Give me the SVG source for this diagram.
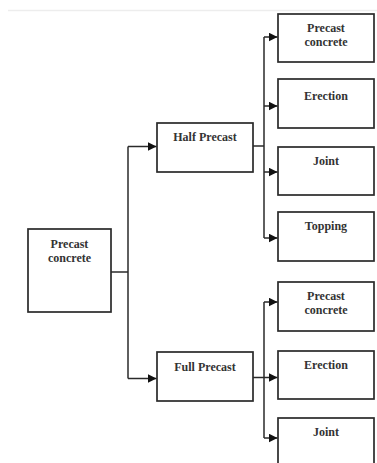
<svg xmlns="http://www.w3.org/2000/svg" width="377" height="463" viewBox="0 0 377 463">
<style>
.box{fill:#fff;stroke:#2a2a2a;stroke-width:1.7}
.lbl{font-family:"Liberation Serif","Times New Roman",serif;font-weight:bold;font-size:12px;fill:#333;text-anchor:middle}
.con{fill:none;stroke:#2a2a2a;stroke-width:1.5}
</style>
<defs>
<marker id="ah" markerWidth="9" markerHeight="9" refX="9" refY="4.5" orient="auto" markerUnits="userSpaceOnUse">
<path d="M0,0 L9,4.5 L0,9 z" fill="#111"/>
</marker>
</defs>
<rect width="377" height="463" fill="#fff"/>
<line x1="8" y1="10.5" x2="377" y2="10.5" stroke="#ededed" stroke-width="1.5"/>
<g id="root"><rect class="box" x="28" y="229" width="83" height="83"/><text class="lbl" x="69.5" y="248">Precast</text><text class="lbl" x="69.5" y="262">concrete</text></g>
<g id="half"><rect class="box" x="157" y="123" width="96" height="49"/><text class="lbl" x="205" y="141">Half Precast</text></g>
<g id="full"><rect class="box" x="157" y="352" width="96" height="49"/><text class="lbl" x="205" y="370.5">Full Precast</text></g>
<g id="h1"><rect class="box" x="278" y="14" width="96" height="48"/><text class="lbl" x="326" y="31.5">Precast</text><text class="lbl" x="326" y="45.5">concrete</text></g>
<g id="h2"><rect class="box" x="278" y="79" width="96" height="49"/><text class="lbl" x="326" y="100">Erection</text></g>
<g id="h3"><rect class="box" x="278" y="147" width="96" height="48"/><text class="lbl" x="326" y="165">Joint</text></g>
<g id="h4"><rect class="box" x="278" y="212" width="96" height="49"/><text class="lbl" x="326" y="230">Topping</text></g>
<g id="f1"><rect class="box" x="278" y="282" width="96" height="49"/><text class="lbl" x="326" y="300">Precast</text><text class="lbl" x="326" y="314">concrete</text></g>
<g id="f2"><rect class="box" x="278" y="351" width="96" height="48"/><text class="lbl" x="326" y="369">Erection</text></g>
<g id="f3"><rect class="box" x="278" y="418" width="96" height="52"/><text class="lbl" x="326" y="436">Joint</text></g>
<g id="connectors">
<path class="con" d="M111,272 H128"/>
<path class="con" d="M128,146.5 V378.5"/>
<path class="con" d="M128,146.5 H156.5" marker-end="url(#ah)"/>
<path class="con" d="M128,378.5 H156.5" marker-end="url(#ah)"/>
<path class="con" d="M253,146 H264"/>
<path class="con" d="M264,37 V238"/>
<path class="con" d="M264,37 H277.5" marker-end="url(#ah)"/>
<path class="con" d="M264,106 H277.5" marker-end="url(#ah)"/>
<path class="con" d="M264,172 H277.5" marker-end="url(#ah)"/>
<path class="con" d="M264,238 H277.5" marker-end="url(#ah)"/>
<path class="con" d="M253,377.5 H264"/>
<path class="con" d="M264,302 V438"/>
<path class="con" d="M264,302 H277.5" marker-end="url(#ah)"/>
<path class="con" d="M264,377.5 H277.5" marker-end="url(#ah)"/>
<path class="con" d="M264,438 H277.5" marker-end="url(#ah)"/>
</g>
</svg>
